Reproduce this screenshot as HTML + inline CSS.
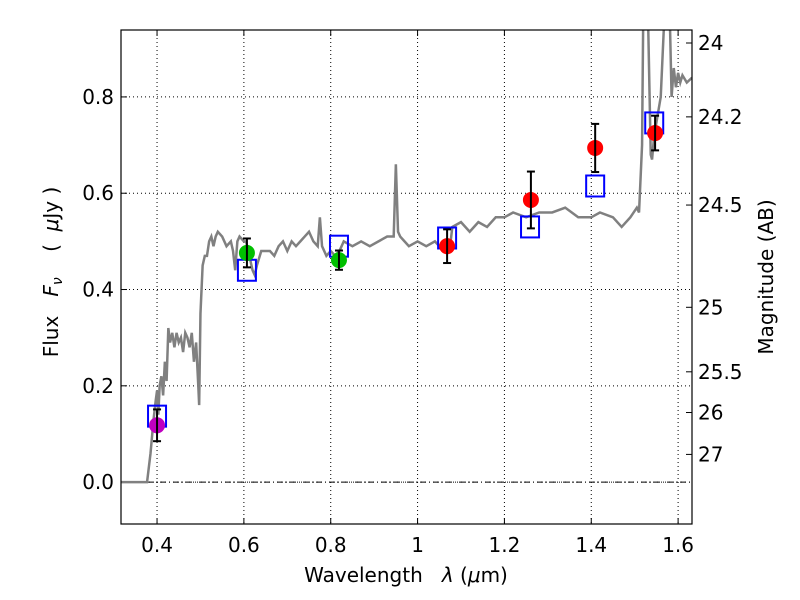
<!DOCTYPE html>
<html><head><meta charset="utf-8"><style>body{margin:0;background:#fff}svg{display:block;font-family:"DejaVu Sans","Liberation Sans",sans-serif}text{white-space:pre}</style></head>
<body>
<svg id="chart" width="800" height="600"></svg>
<script>
const specLam=[0.317,0.377,0.385,0.392,0.397,0.400,0.403,0.406,0.410,0.414,0.418,0.422,0.426,0.43,0.435,0.44,0.445,0.45,0.455,0.46,0.465,0.47,0.475,0.48,0.485,0.49,0.495,0.497,0.50,0.505,0.51,0.515,0.52,0.525,0.53,0.535,0.54,0.55,0.56,0.57,0.575,0.58,0.585,0.59,0.60,0.605,0.61,0.62,0.625,0.63,0.64,0.65,0.66,0.67,0.68,0.69,0.70,0.71,0.72,0.73,0.74,0.75,0.76,0.77,0.775,0.78,0.79,0.80,0.81,0.82,0.83,0.85,0.87,0.89,0.91,0.93,0.945,0.95,0.955,0.96,0.97,0.98,1.0,1.02,1.04,1.06,1.075,1.08,1.10,1.12,1.14,1.16,1.18,1.2,1.22,1.25,1.28,1.31,1.34,1.37,1.40,1.42,1.45,1.47,1.49,1.505,1.51,1.517,1.52,1.53,1.537,1.54,1.545,1.56,1.57,1.58,1.585,1.59,1.595,1.60,1.605,1.61,1.62,1.632];
const specFlux=[0,0,0.06,0.13,0.17,0.19,0.14,0.20,0.22,0.18,0.25,0.21,0.32,0.29,0.31,0.28,0.31,0.29,0.30,0.27,0.31,0.30,0.28,0.31,0.25,0.29,0.20,0.16,0.35,0.45,0.47,0.47,0.50,0.51,0.49,0.51,0.52,0.51,0.49,0.50,0.48,0.44,0.50,0.51,0.50,0.50,0.48,0.44,0.43,0.45,0.48,0.48,0.48,0.47,0.49,0.50,0.48,0.50,0.49,0.50,0.51,0.52,0.50,0.49,0.55,0.49,0.47,0.48,0.47,0.48,0.50,0.49,0.50,0.49,0.50,0.51,0.51,0.66,0.52,0.51,0.50,0.49,0.50,0.49,0.50,0.48,0.49,0.53,0.54,0.52,0.54,0.53,0.55,0.55,0.56,0.55,0.56,0.56,0.57,0.55,0.55,0.56,0.55,0.53,0.55,0.57,0.56,0.70,1.0,1.0,0.68,0.67,0.72,0.80,1.0,1.0,0.80,0.86,0.82,0.85,0.83,0.845,0.83,0.84];
const obsLam=[0.40,0.607,0.819,1.068,1.261,1.409,1.547];
const obsFlux=[0.118,0.476,0.461,0.49,0.586,0.694,0.725];
const obsErr=[0.033,0.03,0.02,0.035,0.059,0.05,0.036];
const obsColor=['#bf00bf','#00bf00','#00bf00','#ff0000','#ff0000','#ff0000','#ff0000'];
const modLam=[0.40,0.607,0.819,1.068,1.259,1.409,1.545];
const modFlux=[0.137,0.44,0.49,0.507,0.53,0.615,0.746];
const xTicks=[0.4,0.6,0.8,1.0,1.2,1.4,1.6];
const xTickLabels=['0.4','0.6','0.8','1','1.2','1.4','1.6'];
const yTicks=[0.0,0.2,0.4,0.6,0.8];
const yTickLabels=['0.0','0.2','0.4','0.6','0.8'];
const magTicks=[24,24.2,24.5,25,25.5,26,27];

const L=121,R=692,T=30,B=524;
const X0=0.317,X1=1.632,Y0=-0.087,Y1=0.939;
const sx=v=>L+(v-X0)/(X1-X0)*(R-L);
const sy=v=>B-(v-Y0)/(Y1-Y0)*(B-T);
const svg=document.getElementById('chart');
const NS='http://www.w3.org/2000/svg';
const FS=20;
function mk(tag,at,parent){const e=document.createElementNS(NS,tag);for(const k in at)e.setAttribute(k,at[k]);(parent||svg).appendChild(e);return e;}
const defs=mk('defs',{});const cp=mk('clipPath',{id:'clip'},defs);mk('rect',{x:L,y:T,width:R-L,height:B-T},cp);
xTicks.forEach((t,i)=>{const g=mk('line',{x1:sx(t),x2:sx(t),y1:T,y2:B,stroke:'#000','stroke-width':1,'stroke-dasharray':'1,3'});


const tk=mk('line',{x1:sx(t),x2:sx(t),y1:B,y2:B-6,stroke:'#000'});


const tk2=mk('line',{x1:sx(t),x2:sx(t),y1:T,y2:T+6,stroke:'#000'});


const tx=mk('text',{x:sx(t),y:B+28,'font-size':FS,'text-anchor':'middle'});tx.textContent=xTickLabels[i];

});
yTicks.forEach((t,i)=>{const g=mk('line',{x1:L,x2:R,y1:sy(t),y2:sy(t),stroke:'#000','stroke-width':1,'stroke-dasharray':'1,3'});


const tk=mk('line',{x1:L,x2:L+6,y1:sy(t),y2:sy(t),stroke:'#000'});


const tx=mk('text',{x:L-7,y:sy(t)+7,'font-size':FS,'text-anchor':'end'});tx.textContent=yTickLabels[i];

});
const z=mk('line',{x1:L,x2:R,y1:sy(0),y2:sy(0),stroke:'#000','stroke-width':1,'stroke-dasharray':'6,3,1,3'});


magTicks.forEach(m=>{const f=Math.pow(10,(23.9-m)/2.5);const y=sy(f);
const tk=mk('line',{x1:R,x2:R-6,y1:y,y2:y,stroke:'#000'});


const tx=mk('text',{x:R+6,y:y+7,'font-size':FS});tx.textContent=String(m);

});
const sp=mk('polyline',{points:specLam.map((l,i)=>sx(l)+','+sy(specFlux[i])).join(' '),fill:'none',stroke:'#808080','stroke-width':2.5,'clip-path':'url(#clip)'});


modLam.forEach((l,i)=>{const r=mk('rect',{x:sx(l)-9,y:sy(modFlux[i])-10.5,width:18,height:21,fill:'none',stroke:'#0000ff','stroke-width':2});

});
obsLam.forEach((l,i)=>{const x=sx(l);
const c=mk('circle',{cx:x,cy:sy(obsFlux[i]),r:8,fill:obsColor[i]});


const g=mk('g',{stroke:'#000','stroke-width':2});


const y1=sy(obsFlux[i]+obsErr[i]),y2=sy(obsFlux[i]-obsErr[i]);
mk('line',{x1:x,x2:x,y1:y1,y2:y2},g);mk('line',{x1:x-4,x2:x+4,y1:y1,y2:y1},g);mk('line',{x1:x-4,x2:x+4,y1:y2,y2:y2},g);});
const fr=mk('rect',{x:L,y:T,width:R-L,height:B-T,fill:'none',stroke:'#000','stroke-width':1.2});


const xt=mk('text',{x:406,y:582,'font-size':FS,'text-anchor':'middle'});xt.innerHTML='Wavelength   <tspan font-style="italic">λ</tspan> (<tspan font-style="italic">μ</tspan>m)';


const yt=mk('text',{x:0,y:0,'font-size':FS,'text-anchor':'middle',transform:'translate(58,272) rotate(-90)'});yt.innerHTML='Flux   <tspan font-style="italic">F<tspan font-size="14" dy="4">ν</tspan></tspan><tspan dy="-4">    (  </tspan><tspan font-style="italic">μ</tspan>Jy )';


const rt=mk('text',{x:0,y:0,'font-size':FS,'text-anchor':'middle',transform:'translate(773,277) rotate(-90)'});rt.textContent='Magnitude (AB)';


</script>
</body></html>
